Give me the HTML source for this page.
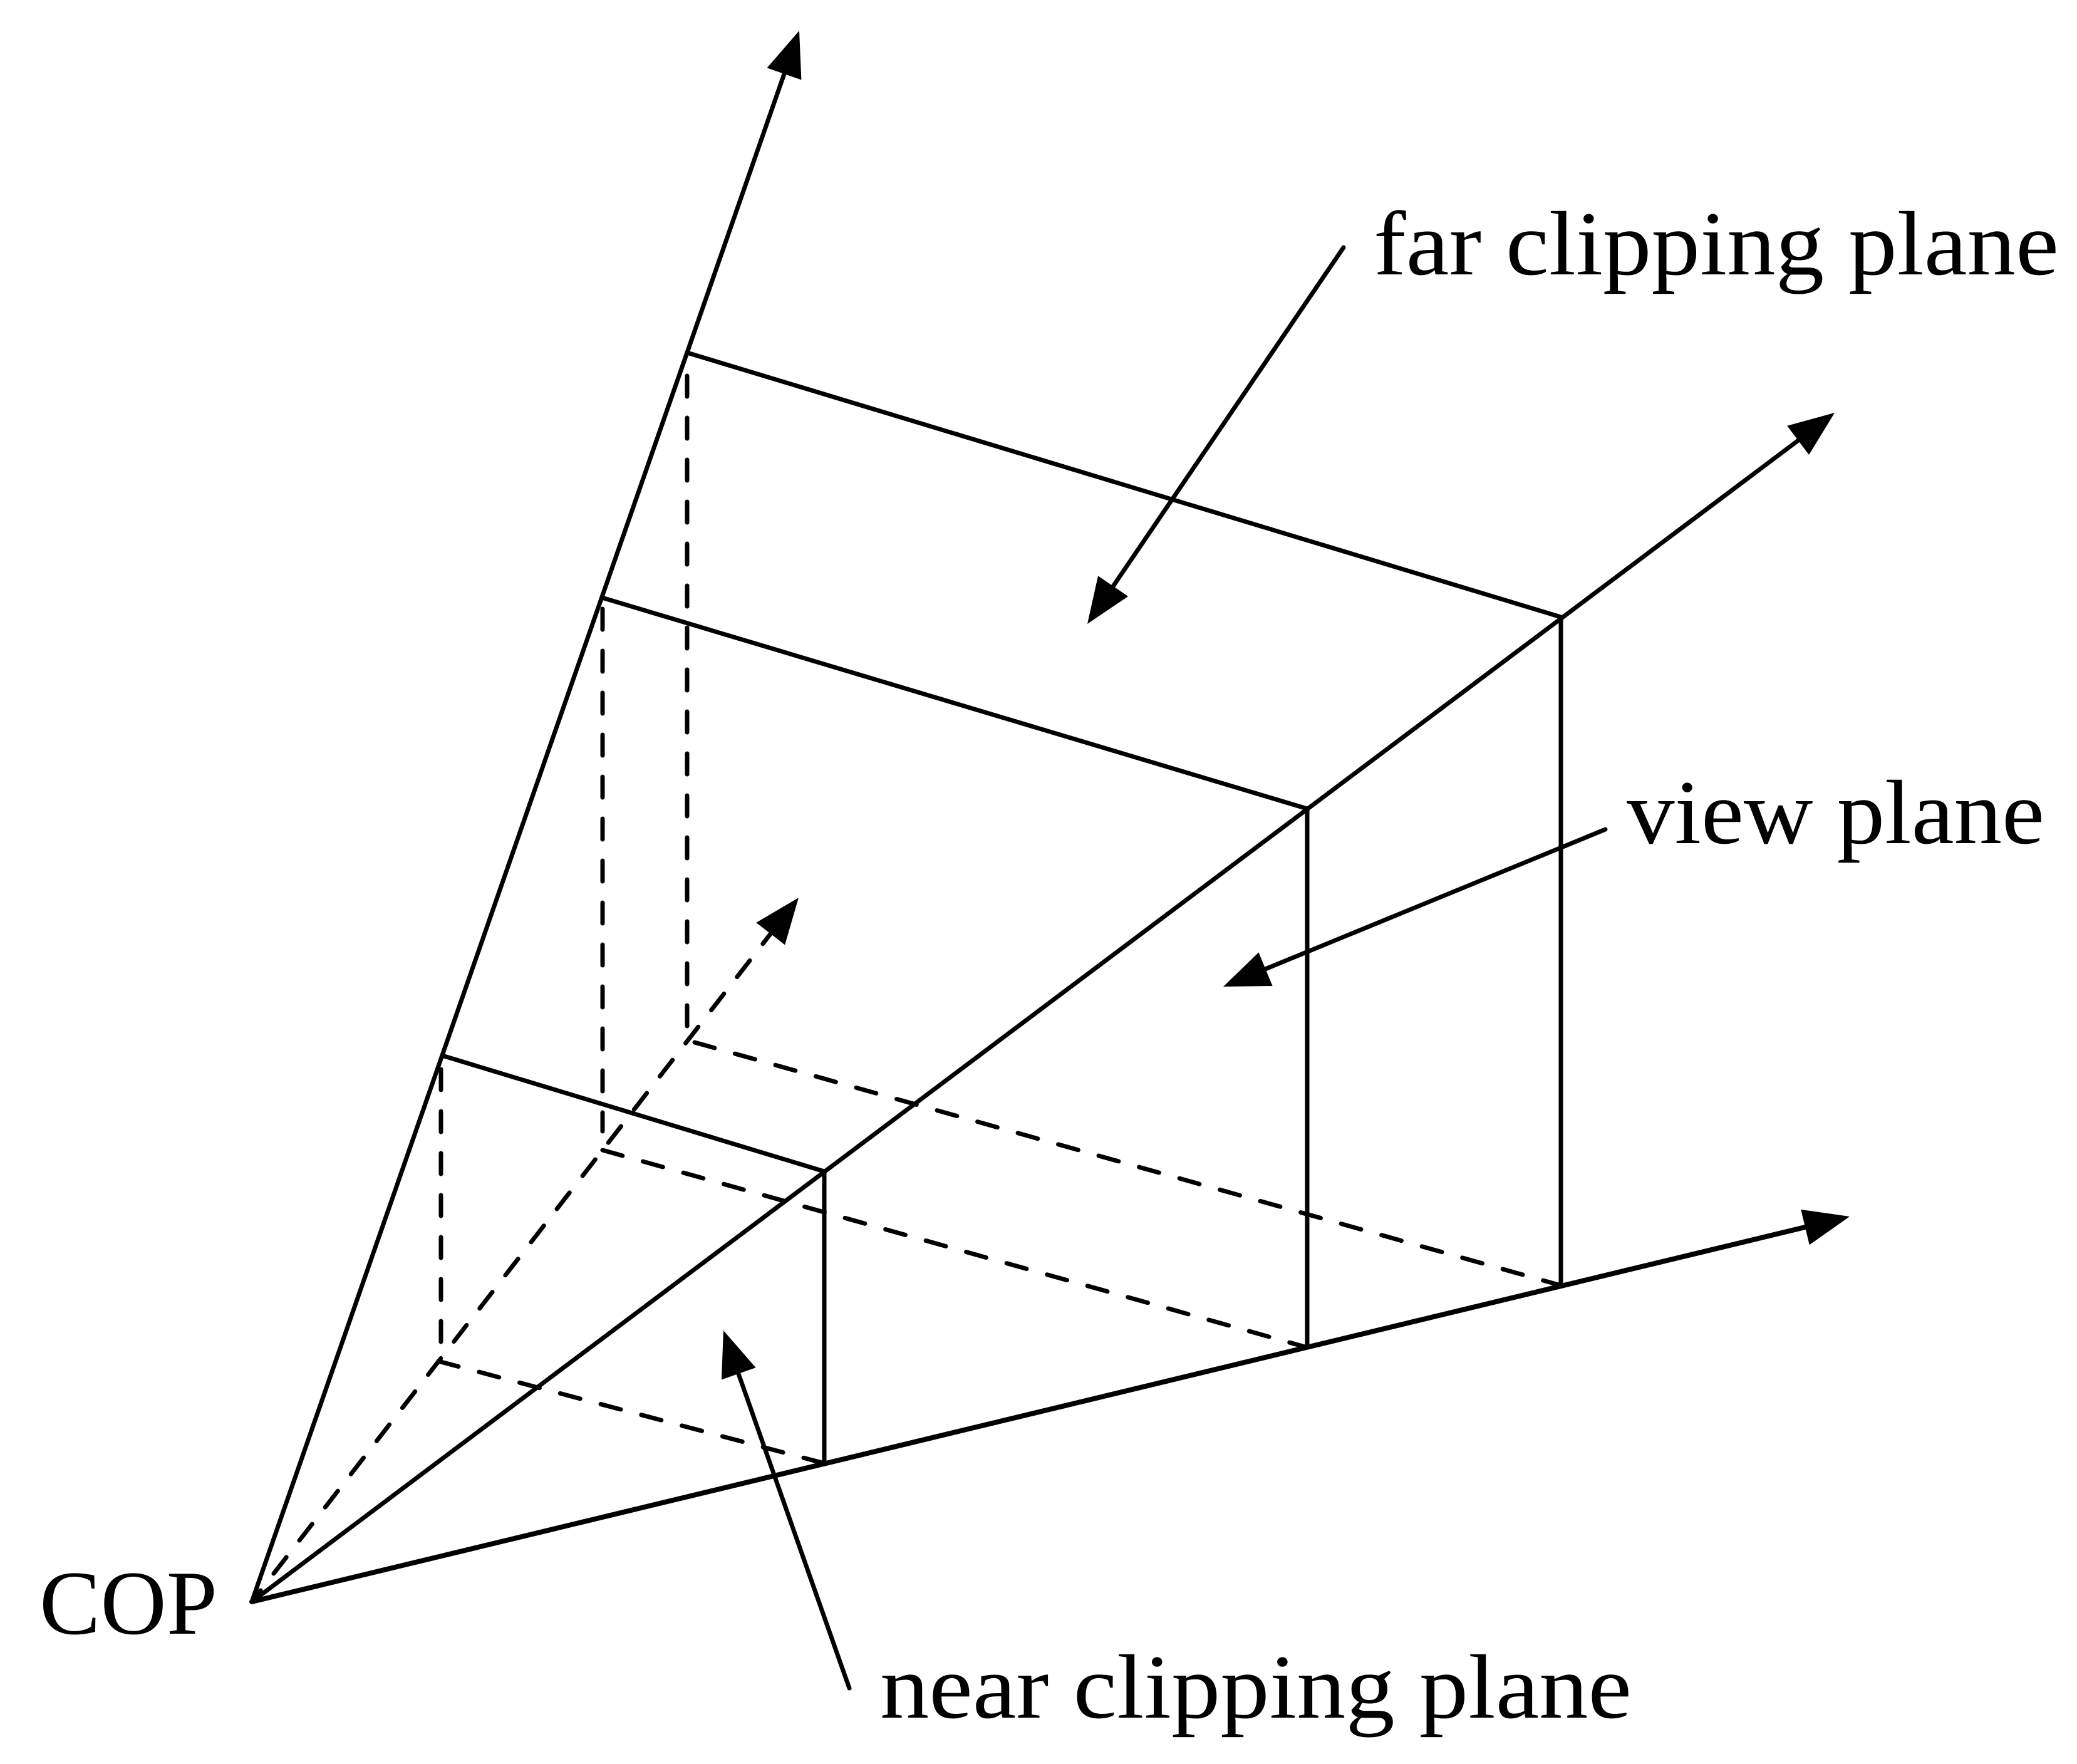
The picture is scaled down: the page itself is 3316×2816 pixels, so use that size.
<!DOCTYPE html>
<html>
<head>
<meta charset="utf-8">
<style>
  html, body { margin: 0; padding: 0; background: #ffffff; }
  svg { display: block; }
  text { font-family: "Liberation Serif", "Times New Roman", serif; font-size: 146px; fill: #000; }
</style>
</head>
<body>
<svg width="3316" height="2816" viewBox="0 0 3316 2816" xmlns="http://www.w3.org/2000/svg">
  <rect x="0" y="0" width="3316" height="2816" fill="#ffffff"/>

  <!-- solid axes from COP -->
  <g stroke="#000" stroke-width="7" stroke-linecap="round" fill="none">
    <line x1="402" y1="2557" x2="1252" y2="118"/>
    <line x1="402" y1="2557" x2="2871" y2="703"/>
    <line x1="402" y1="2557" x2="2882" y2="1959" stroke-width="8"/>
  </g>

  <!-- dashed hidden edges -->
  <g stroke="#000" stroke-width="7" stroke-linecap="round" fill="none" stroke-dasharray="33 34">
    <line x1="402" y1="2557" x2="1230" y2="1491" stroke-dashoffset="10"/>
    <line x1="1097" y1="600" x2="1097" y2="1646"/>
    <line x1="962" y1="972" x2="962" y2="1806"/>
    <line x1="704" y1="1707" x2="704" y2="2144"/>
    <line x1="1109" y1="1664" x2="2492" y2="2052"/>
    <line x1="962" y1="1836" x2="2087" y2="2151"/>
    <line x1="700" y1="2173" x2="1316" y2="2336"/>
  </g>

  <!-- solid plane edges -->
  <g stroke="#000" stroke-width="7" stroke-linecap="butt" fill="none">
    <line x1="1097" y1="563" x2="2492" y2="985"/>
    <line x1="2492" y1="985" x2="2492" y2="2052"/>
    <line x1="961" y1="954" x2="2087" y2="1291"/>
    <line x1="2087" y1="1291" x2="2087" y2="2151"/>
    <line x1="706" y1="1685" x2="1316" y2="1870"/>
    <line x1="1316" y1="1870" x2="1316" y2="2336"/>
  </g>

  <!-- label pointer lines -->
  <g stroke="#000" stroke-width="7" stroke-linecap="round" fill="none">
    <line x1="2145" y1="395" x2="1777" y2="936"/>
    <line x1="2563" y1="1324" x2="2020" y2="1547"/>
    <line x1="1356" y1="2695" x2="1179" y2="2193"/>
  </g>

  <!-- arrowheads -->
  <g fill="#000" stroke="none">
    <polygon points="1276,49 1279.4,127.5 1224.6,108.4"/>
    <polygon points="2929,659 2888.1,726 2853.2,679.7"/>
    <polygon points="2953,1942 2888.8,1987.3 2875.2,1930.9"/>
    <polygon points="1275,1433 1253.1,1508.4 1207.3,1472.9"/>
    <polygon points="1736,996 1753.1,919.3 1801.1,952"/>
    <polygon points="1953,1575 2009.5,1520.4 2031.6,1574"/>
    <polygon points="1155,2124 1206.6,2183.2 1151.9,2202.5"/>
  </g>

  <!-- labels -->
  <text x="2193" y="438" textLength="1094" lengthAdjust="spacingAndGlyphs">far clipping plane</text>
  <text x="2597" y="1346" textLength="667" lengthAdjust="spacingAndGlyphs">view plane</text>
  <text x="1405" y="2742" textLength="1200" lengthAdjust="spacingAndGlyphs">near clipping plane</text>
  <text x="63" y="2608">COP</text>
</svg>
</body>
</html>
